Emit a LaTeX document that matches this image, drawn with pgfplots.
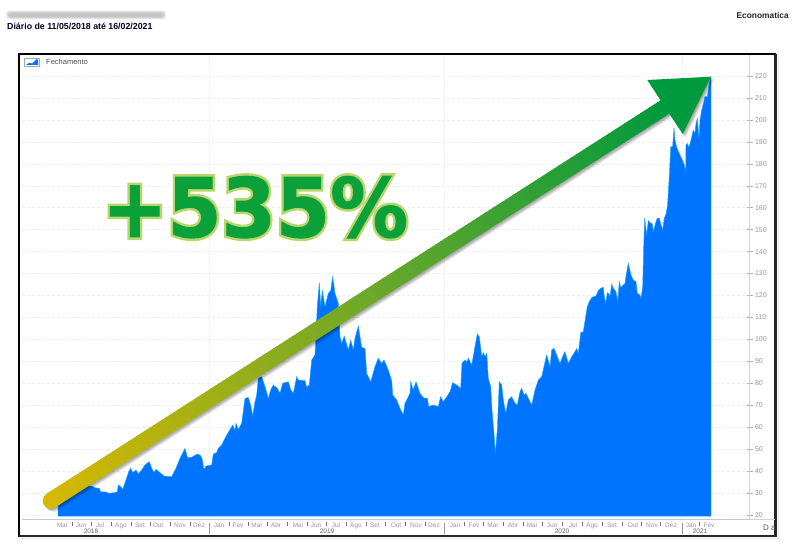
\documentclass[border=0pt]{standalone}
\usepackage{fontspec}
\setmainfont{Liberation Sans}
\newfontfamily\bignum{DejaVu Sans}
\usepackage{pgfplots}
\pgfplotsset{compat=1.18}
\usepackage{pgfplotstable}
\usetikzlibrary{calc}
\definecolor{areablue}{RGB}{0,115,255}
\definecolor{areaedge}{RGB}{20,165,255}
\definecolor{tickgray}{RGB}{150,150,150}
\definecolor{gridc}{RGB}{238,238,238}
\definecolor{arrowA}{RGB}{214,184,0}
\definecolor{arrowB}{RGB}{112,168,40}
\definecolor{arrowC}{RGB}{0,154,62}
\definecolor{numgreen}{RGB}{12,160,58}
\definecolor{numlight}{RGB}{184,214,107}
\pgfplotstableread{
x v
58 19.5
58 30
70 31
80 33
91.7 33.2
95 32.4
99.3 32.1
100.7 30.6
105 30.5
109.3 29.9
115 30.2
117.3 30.6
118.3 33.7
120.7 32.9
122.7 31.7
126 36
128.7 39.7
130.7 41.3
132.7 39.3
136 40.5
138.3 38.7
141.7 40.5
145 42.8
149.3 44.3
151.7 41.3
154 39.3
156 40.8
160 39.3
164 37.8
168.3 37.5
171.7 37.5
176 41.3
180 45.8
185 50.4
187.3 46.3
191.7 46.3
197.3 47.8
200 47.3
202 45.8
204 40.8
206 42.3
211.7 42.8
213.3 47.8
216.7 48.4
218.3 50.4
221.7 51.9
226.7 56.4
230.7 59.5
232.7 61
235 58.7
236 61.8
238.3 59
241.7 61.8
245 73.1
248.3 73.6
251 69.4
252.7 65.1
255 71.6
256.7 74.7
258.3 82.3
261.7 83
265 78.5
268.3 73.1
270.7 77
273.3 79.2
277.3 77.7
280 75.4
282.7 80
288.3 80.7
290.7 77.2
293.3 75.4
296.7 83
298.3 81.5
305 81.2
306.7 78.2
309.3 79.2
311.7 90.6
315 92.9
317.3 114.9
319.3 125.8
320.7 114.9
322.3 122.2
325 114.9
328.3 121
330.7 122.2
332.7 128.6
335 121
338.3 116.4
340 101.2
341.7 98.2
344.3 101.5
348.3 95.2
350.7 99.7
353.3 95.2
355 100.5
358.3 106.1
361.7 96.4
365 95.9
366.7 84.5
370.7 80.7
375 87.6
378.3 91.4
381.7 89.1
384 90.6
388.3 86
391.7 81.2
392.7 74.7
396.7 72.4
400 68.6
403.3 65.6
405 70.9
410 75.4
410.7 80.7
413.3 77
416 80.7
420 75.4
424 73.2
427.3 73.2
428.7 69.4
433.3 70.1
438.3 69.4
440.7 73.9
443.3 71.6
447.3 74.2
450 76.2
452.7 80.3
456.7 79.2
460.7 77.7
462 89.1
465 90.6
466.7 89.8
468.3 91.4
471.7 88.3
475 96.7
477.3 102.5
479.3 101.2
481.7 92.1
483.3 94
485 92.1
486.7 93.7
488.3 82.3
490.7 78.5
492 67.8
494 57.2
495.3 48.1
497.3 58.7
499.3 80.7
501.7 79.2
503.3 72.4
505.7 66.3
508.3 72.4
511.7 73.9
515 70.9
517.3 70.1
520 76.2
521.7 77.7
524 74.7
526 75.4
530 71.6
531.7 70.1
535 76.9
538.3 81.5
541.7 83
546.7 92.9
550 87.6
551.7 95.2
554 95.9
556.7 92.9
560 89.1
563.3 92.9
565 94.4
568.3 89.1
571.7 92.1
575 94.4
576.7 95.9
578.3 93.6
580.7 103
583.3 103.5
585.7 110.4
587.3 114.9
589.3 117.2
592 119.2
594 119.5
596 119.8
598.3 122.2
600.7 123.3
603.3 123.7
604.3 119.5
605.7 116.4
607.3 121.3
609 120.7
610 119.5
611.7 125.2
613.3 123.3
616 121.7
617.7 117.2
619.3 126.3
620.7 123.7
625 125.5
626 128.9
628.3 134.7
631 129.3
633.3 127
636 126.3
637.3 121
640 120.2
641 118.7
642.7 124
643.7 142.2
644.7 155.2
646.7 147.6
648.3 154.1
650 153.2
652.3 152.6
653.3 149.1
656 153.6
657.3 155.2
659.3 155.2
660.7 152.6
662.7 150.1
664.3 155.2
666 157.1
667.5 161
669.3 174.1
670.7 187.5
672.7 188.1
674 196.2
675 190.8
676.7 187.5
680 184
682.3 181.7
684 179.9
685.7 176.4
686 188.6
687.3 189.3
689 187.5
691 190.8
693.3 195.4
695 193.9
696 198.4
697.3 200.7
699 191.6
700 200
701.7 204.5
705 210.6
707.3 210.6
709.3 216.7
711 219.7
711 19.5
}\closeprice
\begin{document}
\begin{tikzpicture}
\useasboundingbox (0,0) rectangle (802pt,554pt);
\begin{axis}[
  at={(22pt,35pt)},anchor=south west,
  scale only axis,width=727.5pt,height=464pt,
  xmin=22,xmax=749.5,ymin=18.18,ymax=229.57,
  axis x line=bottom,axis y line=right,
  axis line style={-,draw=black!22,line width=.7pt},
  ytick={20,30,...,220},
  tick align=center,
  major tick length=6pt,
  y tick style={draw=black!30,line width=.5pt},
  x tick style={draw=none},
  /pgf/number format/assume math mode=true,
  yticklabel style={font=\fontsize{7}{8}\selectfont,text=tickgray,xshift=-1pt},
  xtick={62,81,100,121,140,158,180,199,219,238,257,276,298,316,336,356,375,396,416,434,455,474,493,513,532,552,573,592,612,633,652,671,691,709},
  xticklabels={Mai,Jun,Jul,Ago,Set,Out,Nov,Dez,Jan,Fev,Mar,Abr,Mai,Jun,Jul,Ago,Set,Out,Nov,Dez,Jan,Fev,Mar,Abr,Mai,Jun,Jul,Ago,Set,Out,Nov,Dez,Jan,Fev},
  xticklabel style={font=\fontsize{6.5}{7}\selectfont,text=tickgray,yshift=2.5pt},
  ymajorgrids,
  grid style={draw=gridc,densely dashed,line width=.5pt},
  extra x ticks={209,444,682},
  extra x tick labels={},
  extra x tick style={grid=major,x tick style={draw=none}},
  clip=true,
]
\addplot[fill=areablue,draw=areaedge,line width=.45pt] table[x=x,y=v] {\closeprice} --cycle;
\end{axis}
\begin{scope}[x=1pt,y=-1pt,shift={(0pt,554pt)}]
  % frame
  \draw[black!10,line width=1pt] (22,538) -- (778,538) -- (778,57);
  \draw[black,line width=1.3pt] (19,54) rectangle (775.5,536);
  \draw[black!85,line width=2.4pt] (19,536) -- (775.5,536) -- (775.5,54);
  % lower axis
  \draw[black!18,line width=.6pt] (749.5,519) -- (775,519);
  \draw[black!18,line width=.6pt] (749.5,55) -- (749.5,519);
  \foreach \s in {209,444,682} \draw[black!40,line width=.6pt] (\s,523) -- (\s,534);
  \foreach \s in {72,91,111,131,150,170,190,229,248,267,287,307,326,346,366,385,405,425,464,483,503,523,542,562,582,602,622,641,660,699}
    \draw[black!55,line width=.6pt] (\s,522) -- (\s,526);
  \foreach \s/\t in {91/2018,327/2019,562/2020,700/2021}
    \node[font=\fontsize{6.5}{7}\selectfont,text=black!60,inner sep=0pt] at (\s,531) {\t};
  \node[font=\fontsize{8}{9}\selectfont,text=black!65,inner sep=0pt,anchor=west] at (763,528) {D a};
  % legend
  \draw[black!35,line width=.5pt,fill=white] (24.5,58) rectangle (39.5,66);
  \fill[areablue] (26,65) -- (29,63) -- (32,63.5) -- (35,61) -- (36,59.5) -- (38,59.5) -- (38,65) -- cycle;
  \node[font=\fontsize{7.5}{9}\selectfont,text=black!70,inner sep=0pt,anchor=west] at (46,62) {Fechamento};
  % blurred title bar
  \foreach \o in {0,.8,1.6,2.4}
    \fill[black!45,opacity=.16,rounded corners=3pt] (6+\o,10.5+\o) rectangle (166-\o,19.5-\o);
  \node[font=\bfseries\fontsize{8.8}{10}\selectfont,text=black!85!blue,inner sep=0pt,anchor=west] at (7,26) {Diário de 11/05/2018 até 16/02/2021};
  \node[font=\bfseries\fontsize{8.4}{9}\selectfont,text=black!85,inner sep=0pt,anchor=east] at (789,15.5) {Economatica};
  % arrow shadow
  \foreach \o/\a in {1/.12,2/.14,3/.12}{
    \draw[black,opacity=\a,line width=16,line cap=round] (50.7+\o,500.7+\o) -- (665+\o,107+\o);
    \fill[black,opacity=\a,shift={(\o,\o)}] (647.3,80) -- (711,76.7) -- (682.7,134) -- cycle;
  }
  % arrow: shaft made of short pieces that run from gold to green
  \draw[arrowA,line width=16,line cap=round] (50.7,500.7) -- (56,497.3);
  \foreach \i in {0,...,149}{
    \pgfmathsetmacro{\ta}{\i/150}
    \pgfmathsetmacro{\tb}{(\i+1.25)/150}
    \pgfmathsetmacro{\mixa}{\i<75 ? 100-\i/75*100 : 100-(\i-75)/75*100}
    \ifnum\i<75
      \colorlet{seg}{arrowA!\mixa!arrowB}
    \else
      \colorlet{seg}{arrowB!\mixa!arrowC}
    \fi
    \draw[seg,line width=16] ($(50.7,500.7)!\ta!(665,107)$) -- ($(50.7,500.7)!\tb!(665,107)$);
  }
  \fill[arrowC] (647.3,80) -- (711,76.7) -- (682.7,134) -- cycle;
  % +535%: light outline beneath, heavy green on top
  \node[font=\bignum\bfseries\fontsize{82}{90}\selectfont,text=numlight,inner sep=0pt,anchor=base west,xscale=.95] at (102,237) {\special{pdf:code 2 Tr 6 w 0.72 0.84 0.42 RG}+535\%\special{pdf:code 0 Tr}};
  \node[font=\bignum\bfseries\fontsize{82}{90}\selectfont,text=numgreen,inner sep=0pt,anchor=base west,xscale=.95] at (102,237) {\special{pdf:code 2 Tr 1 w 0.05 0.63 0.23 RG}+535\%\special{pdf:code 0 Tr}};
\end{scope}
\end{tikzpicture}
\end{document}
